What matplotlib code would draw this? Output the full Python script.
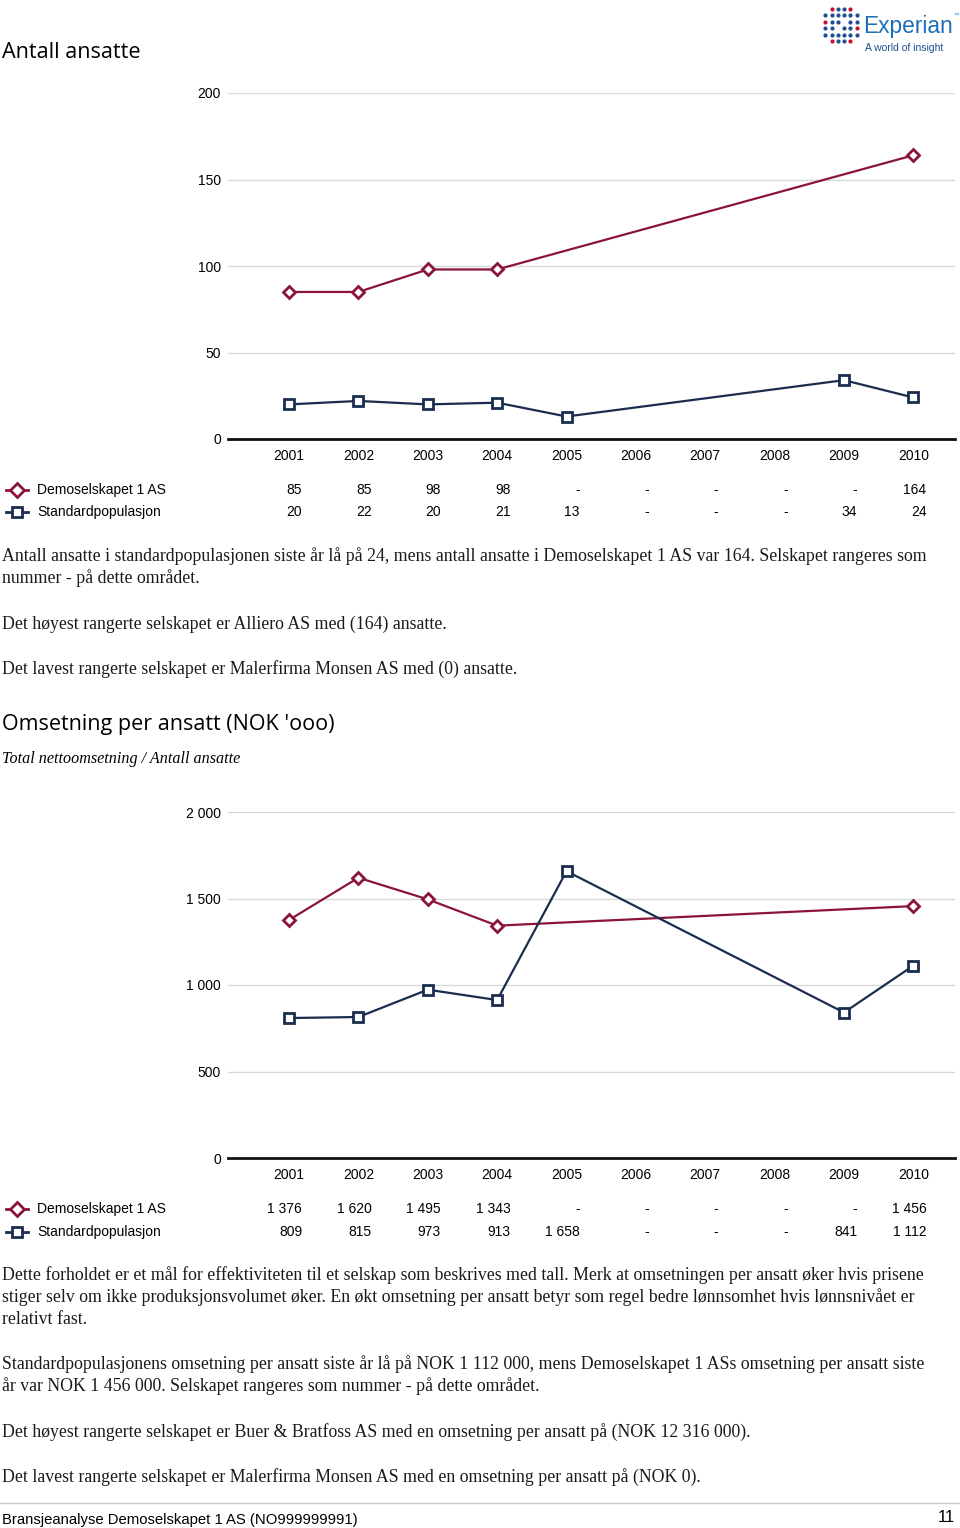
import numpy as np
import matplotlib
matplotlib.use('Agg')
import matplotlib.pyplot as plt
from matplotlib.transforms import blended_transform_factory
from matplotlib.lines import Line2D

# data
years = ['2001', '2002', '2003', '2004', '2005', '2006', '2007', '2008', '2009', '2010']
ansatte_demo = [85, 85, 98, 98, None, None, None, None, None, 164]
ansatte_std = [20, 22, 20, 21, 13, None, None, None, 34, 24]
oms_demo = [1376, 1620, 1495, 1343, None, None, None, None, None, 1456]
oms_std = [809, 815, 973, 913, 1658, None, None, None, 841, 1112]
serie_navn = ['Demoselskapet 1 AS', 'Standardpopulasjon']
ticks1 = [0, 50, 100, 150, 200]
ticks2 = [0, 500, 1000, 1500, 2000]

RED = '#8a1538'
BLUE = '#1b2d4f'
W, H = 960, 1528

sans = ['Liberation Sans', 'DejaVu Sans']
serif = ['Liberation Serif', 'DejaVu Serif']
head = ['Open Sans', 'DejaVu Sans']
BODY = 12.8

fig = plt.figure(figsize=(W / 100, H / 100), dpi=100)


def fy(p):
    return 1 - p / H


def fmt(v):
    if v is None:
        return '-'
    return '{:,}'.format(v).replace(',', ' ')


def chart(top, bottom, demo, std, ticks, ymax, row_y):
    ax = fig.add_axes([228 / W, fy(bottom), (955 - 228) / W, (bottom - top) / H])
    x = np.arange(len(years))
    for vals, col, mk, ms in [(demo, RED, 'D', 6.5), (std, BLUE, 's', 6.5)]:
        xs = [i for i, v in zip(x, vals) if v is not None]
        ys = [v for v in vals if v is not None]
        ax.plot(xs, ys, color=col, lw=1.6, marker=mk, ms=ms, mfc='white',
                mec=col, mew=2, clip_on=False, zorder=3)
    ax.set_xlim(-0.88, 9.6)
    ax.set_ylim(0, ymax)
    ax.set_yticks(ticks)
    ax.set_yticklabels([fmt(t) for t in ticks], fontsize=10, family=sans)
    ax.yaxis.grid(True, color='#d9d9d9', lw=1)
    ax.set_axisbelow(True)
    ax.set_xticks(x)
    ax.set_xticklabels(years, fontsize=10, family=sans)
    ax.tick_params(axis='both', length=0)
    ax.tick_params(axis='y', pad=5)
    ax.tick_params(axis='x', pad=7.5)
    for s in ['top', 'right', 'left']:
        ax.spines[s].set_visible(False)
    ax.spines['bottom'].set_linewidth(2)
    ax.spines['bottom'].set_color('#111111')
    tr = blended_transform_factory(ax.transData, fig.transFigure)
    for r, (vals, col, mk) in enumerate([(demo, RED, 'D'), (std, BLUE, 's')]):
        yy = fy(row_y[r])
        for i, v in enumerate(vals):
            ax.text(i + 0.19, yy, fmt(v), transform=tr, ha='right', va='center',
                    fontsize=10, family=sans)
        fig.add_artist(Line2D([6 / W, 17 / W, 28 / W], [yy, yy, yy], color=col, lw=2,
                              marker=mk, markevery=[1], ms=7.5, mfc='white', mec=col,
                              mew=2))
        fig.text(37 / W, yy, serie_navn[r], ha='left', va='center',
                 fontsize=10, family=sans)
    return ax


def para(lines, y0, step=22.5):
    for k, t in enumerate(lines):
        fig.text(2 / W, fy(y0 + 2 + k * step), t, ha='left', va='center',
                 fontsize=BODY, family=serif, color='#1a1a1a')


# --- header
fig.text(2 / W, fy(52), 'Antall ansatte', fontsize=15.6, family=head, va='center')

# logo
lax = fig.add_axes([822 / W, fy(44), 38 / W, 38 / H])
pattern = ['.rbbr.',
           'bbbbbb',
           'rbb.bb',
           'bb.bbr',
           'bbbbbb',
           '.rbbr.']
cols = {'r': '#c8102e', 'b': '#1d4f91'}
for r, row in enumerate(pattern):
    for c, ch in enumerate(row):
        if ch in cols:
            lax.scatter(c, -r, s=9, color=cols[ch], lw=0)
lax.set_xlim(-0.5, 5.5)
lax.set_ylim(-5.5, 0.5)
lax.axis('off')
fig.text(863 / W, fy(26), 'Experian', fontsize=16.4, family=sans, color='#1d6fb8',
         va='center')
fig.text(953 / W, fy(15), '™', fontsize=4, family=sans, color='#1d6fb8', va='center')
fig.text(865 / W, fy(48), 'A world of insight', fontsize=7.5, family=sans,
         color='#1d4f91', va='center')

# --- chart 1
chart(93, 439, ansatte_demo, ansatte_std, ticks1, 200, [490, 512])
para(['Antall ansatte i standardpopulasjonen siste år lå på 24, mens antall ansatte i Demoselskapet 1 AS var 164. Selskapet rangeres som',
      'nummer - på dette området.'], 554)
para(['Det høyest rangerte selskapet er Alliero AS med (164) ansatte.'], 622)
para(['Det lavest rangerte selskapet er Malerfirma Monsen AS med (0) ansatte.'], 667)

# --- chart 2
fig.text(2 / W, fy(725), "Omsetning per ansatt (NOK 'ooo)", fontsize=15.5, family=head,
         va='center')
fig.text(2 / W, fy(759), 'Total nettoomsetning / Antall ansatte', fontsize=11.6,
         family=serif, style='italic', va='center')
chart(812, 1158, oms_demo, oms_std, ticks2, 2000, [1209, 1232])
para(['Dette forholdet er et mål for effektiviteten til et selskap som beskrives med tall. Merk at omsetningen per ansatt øker hvis prisene',
      'stiger selv om ikke produksjonsvolumet øker. En økt omsetning per ansatt betyr som regel bedre lønnsomhet hvis lønnsnivået er',
      'relativt fast.'], 1273)
para(['Standardpopulasjonens omsetning per ansatt siste år lå på NOK 1 112 000, mens Demoselskapet 1 ASs omsetning per ansatt siste',
      'år var NOK 1 456 000. Selskapet rangeres som nummer - på dette området.'], 1362)
para(['Det høyest rangerte selskapet er Buer & Bratfoss AS med en omsetning per ansatt på (NOK 12 316 000).'], 1430)
para(['Det lavest rangerte selskapet er Malerfirma Monsen AS med en omsetning per ansatt på (NOK 0).'], 1475)

# --- footer
fig.add_artist(Line2D([0, 1], [fy(1503), fy(1503)], color='#cccccc', lw=1))
fig.text(2 / W, fy(1520), 'Bransjeanalyse Demoselskapet 1 AS (NO999999991)',
         fontsize=10.7, family=sans, va='center')
fig.text(955 / W, fy(1518), '11', fontsize=12, family=sans, va='center', ha='right')

fig.savefig('out.png', dpi=100)
